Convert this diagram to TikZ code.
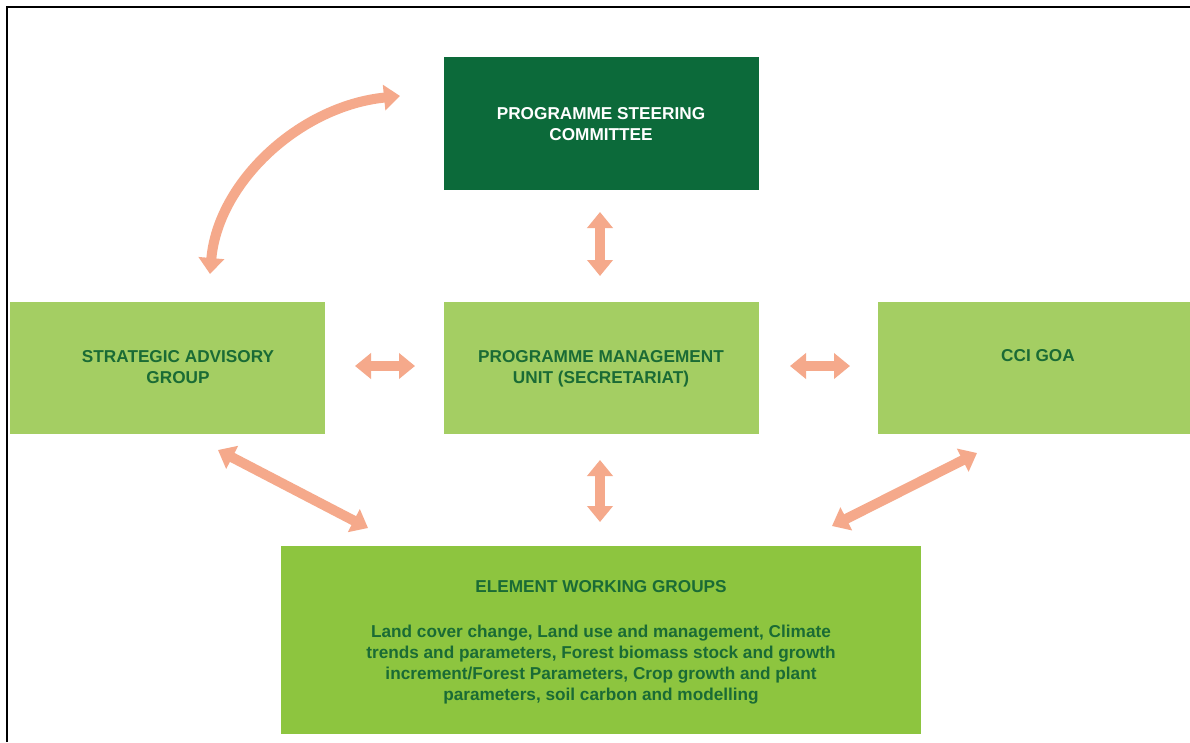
\documentclass[tikz,border=0pt]{standalone}
\usepackage{fontspec}
\setmainfont{Liberation Sans}
\usetikzlibrary{arrows.meta}
\definecolor{darkbox}{HTML}{0C6A3A}
\definecolor{lightbox}{HTML}{A4CE63}
\definecolor{brightbox}{HTML}{8DC53F}
\definecolor{txtgreen}{HTML}{1A6B35}
\definecolor{arrowc}{HTML}{F5A98B}
\tikzset{
  box/.style={draw=none, rectangle, inner sep=0pt, outer sep=0pt},
  boxtext/.style={anchor=base, align=center, inner sep=0pt, font=\bfseries\fontsize{17.2}{21}\selectfont, text=txtgreen},
  biarrow/.style={draw=arrowc, line width=10pt, {Triangle[width=25pt,length=16pt]}-{Triangle[width=25pt,length=16pt]}}
}
\begin{document}
\begin{tikzpicture}[x=1pt,y=-1pt]
\useasboundingbox (0,0) rectangle (1190,742);
\fill[white] (0,0) rectangle (1190,742);
\draw[line width=2.6pt] (7,742) -- (7,7) -- (1190,7);

\node[box, fill=darkbox, minimum width=315pt, minimum height=133pt] (psc) at (601.5,123.5) {};
\node[box, fill=lightbox, minimum width=315pt, minimum height=132pt] (sag) at (167.5,368) {};
\node[box, fill=lightbox, minimum width=315pt, minimum height=132pt] (pmu) at (601.5,368) {};
\node[box, fill=lightbox, minimum width=312pt, minimum height=132pt] (cci) at (1034,368) {};
\node[box, fill=brightbox, minimum width=640pt, minimum height=188pt] (ewg) at (601,640) {};

\node[boxtext, text=white] (psct) at (601,140) {PROGRAMME STEERING\\COMMITTEE};
\node[boxtext] (sagt) at (178,383) {STRATEGIC ADVISORY\\GROUP};
\node[boxtext] (pmut) at (601,383) {PROGRAMME MANAGEMENT\\UNIT (SECRETARIAT)};
\node[boxtext] (ccit) at (1038,361) {CCI GOA};
\node[boxtext] (ewgt) at (601,592) {ELEMENT WORKING GROUPS};
\node[boxtext] (ewgb) at (601,700) {Land cover change, Land use and management, Climate\\trends and parameters, Forest biomass stock and growth\\increment/Forest Parameters, Crop growth and plant\\parameters, soil carbon and modelling};

\draw[biarrow] ([shift={(-1.5,22)}]psc.south) -- ([shift={(-1.5,-26)}]pmu.north);
\draw[biarrow] ([shift={(-1.5,26)}]pmu.south) -- ([shift={(-1,-24)}]ewg.north);
\draw[biarrow] ([shift={(30,-2)}]sag.east) -- ([shift={(-29,-2)}]pmu.west);
\draw[biarrow] ([shift={(31,-2)}]pmu.east) -- ([shift={(-28,-2)}]cci.west);
\draw[biarrow] ([shift={(50.5,16)}]sag.south) -- ([shift={(87,-18)}]ewg.north west);
\draw[biarrow] ([shift={(-57,19)}]cci.south) -- ([shift={(-89,-20)}]ewg.north east);
\draw[biarrow] ([shift={(42.5,-28)}]sag.north) .. controls (218,182) and (300,106) .. ([shift={(-44,-27.5)}]psc.west);
\end{tikzpicture}
\end{document}
